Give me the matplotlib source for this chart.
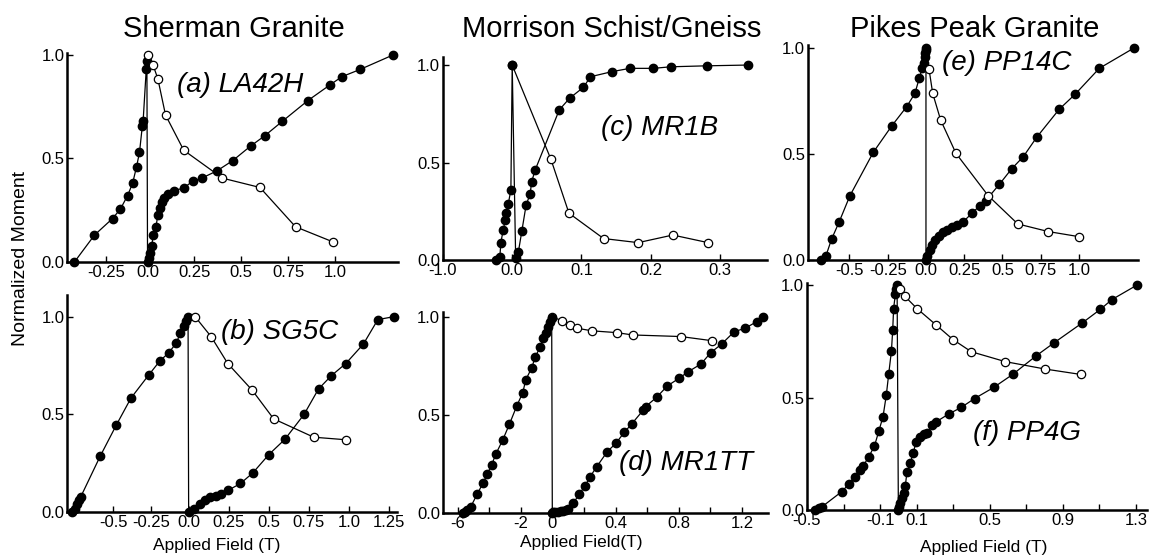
import numpy as np
import matplotlib
matplotlib.use('Agg')
import matplotlib.pyplot as plt

plt.rcParams['font.family'] = ['Liberation Sans', 'DejaVu Sans']

# ---- data (field in T, moment normalised) ----
# bf = backfield (filled, negative side), irm = IRM acquisition (filled), af = AF demag (open)

# (a) LA42H
a_bf_x = [-0.445, -0.323, -0.213, -0.165, -0.122, -0.091, -0.067, -0.049, -0.032, -0.027, -0.008, -0.004]
a_bf_y = [0.0, 0.13, 0.21, 0.256, 0.32, 0.38, 0.46, 0.53, 0.655, 0.68, 0.93, 0.97]
a_irm_x = [0.0, 0.01, 0.015, 0.022, 0.03, 0.045, 0.055, 0.066, 0.078, 0.09, 0.11, 0.14, 0.193, 0.24,
           0.289, 0.37, 0.455, 0.55, 0.626, 0.72, 0.856, 0.973, 1.037, 1.134, 1.31]
a_irm_y = [0.0, 0.02, 0.045, 0.075, 0.13, 0.17, 0.228, 0.26, 0.29, 0.31, 0.33, 0.345, 0.357, 0.39,
           0.405, 0.44, 0.49, 0.56, 0.61, 0.68, 0.78, 0.855, 0.895, 0.93, 1.0]
a_af_x = [0.0, 0.03, 0.055, 0.096, 0.193, 0.40, 0.60, 0.79, 0.99]
a_af_y = [1.0, 0.95, 0.885, 0.71, 0.54, 0.405, 0.36, 0.17, 0.097]

# (b) SG5C
b_bf_x = [-0.777, -0.755, -0.74, -0.727, -0.717, -0.589, -0.482, -0.384, -0.267, -0.193, -0.133,
          -0.082, -0.055, -0.033, -0.017, -0.004]
b_bf_y = [0.0, 0.017, 0.041, 0.061, 0.079, 0.285, 0.444, 0.583, 0.70, 0.772, 0.815, 0.865, 0.917,
          0.95, 0.98, 1.0]
b_irm_x = [0.0, 0.031, 0.073, 0.104, 0.136, 0.173, 0.2, 0.246, 0.323, 0.4, 0.5, 0.6, 0.72, 0.81,
           0.89, 0.98, 1.09, 1.18, 1.28]
b_irm_y = [0.0, 0.017, 0.041, 0.06, 0.075, 0.084, 0.09, 0.111, 0.146, 0.2, 0.294, 0.372, 0.5, 0.63,
           0.698, 0.76, 0.86, 0.985, 1.0]
b_af_x = [0.04, 0.14, 0.244, 0.396, 0.53, 0.78, 0.98]
b_af_y = [1.0, 0.898, 0.76, 0.624, 0.477, 0.383, 0.37]

# (c) MR1B
c_bf_x = [-0.227, -0.178, -0.164, -0.13, -0.10, -0.087, -0.058, -0.019, 0.0]
c_bf_y = [0.0, 0.017, 0.089, 0.154, 0.205, 0.24, 0.285, 0.36, 1.0]
c_irm_x = [0.005, 0.009, 0.014, 0.02, 0.026, 0.028, 0.033, 0.068, 0.083, 0.103, 0.113, 0.144, 0.17,
           0.204, 0.229, 0.281, 0.341]
c_irm_y = [0.01, 0.043, 0.15, 0.28, 0.34, 0.40, 0.46, 0.77, 0.83, 0.886, 0.94, 0.966, 0.983, 0.983,
           0.991, 0.996, 1.0]
c_af_x = [0.0, 0.056, 0.082, 0.132, 0.182, 0.232, 0.283]
c_af_y = [1.0, 0.516, 0.24, 0.11, 0.089, 0.128, 0.089]

# (d) MR1TT
d_bf_x = [-5.63, -5.5, -5.38, -5.16, -4.75, -4.37, -4.11, -3.84, -3.58, -3.14, -2.72, -2.25, -1.87,
          -1.68, -1.3, -1.09, -0.78, -0.57, -0.4, -0.25, -0.15, -0.04]
d_bf_y = [0.0, 0.005, 0.015, 0.032, 0.097, 0.155, 0.2, 0.245, 0.3, 0.372, 0.452, 0.546, 0.614, 0.679,
          0.741, 0.794, 0.845, 0.891, 0.917, 0.95, 0.976, 0.995]
d_irm_x = [0.0, 0.006, 0.02, 0.038, 0.055, 0.07, 0.085, 0.1, 0.133, 0.171, 0.207, 0.239, 0.281, 0.348,
           0.403, 0.456, 0.502, 0.576, 0.591, 0.66, 0.728, 0.802, 0.861, 0.941, 1.003, 1.072, 1.152,
           1.22, 1.294, 1.332]
d_irm_y = [0.0, 0.005, 0.005, 0.005, 0.008, 0.01, 0.015, 0.02, 0.05, 0.097, 0.138, 0.185, 0.236, 0.313,
           0.356, 0.412, 0.454, 0.525, 0.543, 0.59, 0.648, 0.687, 0.721, 0.76, 0.818, 0.862, 0.925,
           0.942, 0.976, 1.0]
d_af_x = [0.0, 0.06, 0.112, 0.158, 0.253, 0.407, 0.509, 0.813, 1.009]
d_af_y = [1.0, 0.981, 0.959, 0.942, 0.929, 0.92, 0.908, 0.9, 0.879]

# (e) PP14C
e_bf_x = [-0.686, -0.654, -0.617, -0.567, -0.497, -0.344, -0.224, -0.126, -0.072, -0.044, -0.024,
          -0.012, -0.008, -0.004, -0.002, 0.0]
e_bf_y = [0.0, 0.019, 0.098, 0.18, 0.303, 0.508, 0.632, 0.723, 0.786, 0.857, 0.904, 0.93, 0.955,
          0.975, 0.99, 1.0]
e_irm_x = [0.0, 0.01, 0.025, 0.04, 0.06, 0.085, 0.11, 0.14, 0.17, 0.2, 0.24, 0.3, 0.35, 0.39, 0.48,
           0.56, 0.636, 0.724, 0.871, 0.974, 1.133, 1.36]
e_irm_y = [0.0, 0.02, 0.045, 0.07, 0.095, 0.115, 0.13, 0.14, 0.155, 0.165, 0.178, 0.22, 0.255, 0.28,
           0.357, 0.43, 0.487, 0.579, 0.711, 0.781, 0.904, 1.0]
e_af_x = [0.02, 0.044, 0.096, 0.196, 0.407, 0.6, 0.8, 1.0]
e_af_y = [0.9, 0.786, 0.66, 0.503, 0.303, 0.17, 0.134, 0.11]

# (f) PP4G
f_bf_x = [-0.454, -0.435, -0.417, -0.311, -0.271, -0.239, -0.208, -0.193, -0.162, -0.131, -0.107,
          -0.084, -0.066, -0.053, -0.038, -0.031, -0.026, -0.016, -0.011, -0.007]
f_bf_y = [0.0, 0.008, 0.015, 0.081, 0.115, 0.148, 0.178, 0.195, 0.237, 0.284, 0.351, 0.415, 0.511,
          0.604, 0.707, 0.8, 0.896, 0.963, 0.985, 1.0]
f_irm_x = [0.0, 0.003, 0.01, 0.02, 0.03, 0.038, 0.047, 0.066, 0.08, 0.098, 0.117, 0.138, 0.157, 0.184,
           0.208, 0.275, 0.343, 0.417, 0.521, 0.625, 0.754, 0.852, 1.007, 1.104, 1.168, 1.304]
f_irm_y = [0.0, 0.015, 0.03, 0.052, 0.074, 0.107, 0.17, 0.21, 0.252, 0.304, 0.326, 0.338, 0.341, 0.378,
           0.393, 0.427, 0.456, 0.496, 0.545, 0.603, 0.686, 0.744, 0.833, 0.892, 0.936, 1.0]
f_af_x = [0.01, 0.035, 0.102, 0.208, 0.299, 0.399, 0.585, 0.803, 0.998]
f_af_y = [0.985, 0.951, 0.896, 0.822, 0.758, 0.704, 0.66, 0.627, 0.603]

panel_names = ['(a) LA42H', '(b) SG5C', '(c) MR1B', '(d) MR1TT', '(e) PP14C', '(f) PP4G']
group_titles = ['Sherman Granite', 'Morrison Schist/Gneiss', 'Pikes Peak Granite']

a_ticks = [-0.25, 0.0, 0.25, 0.5, 0.75, 1.0]
a_labels = ['-0.25', '0.0', '0.25', '0.5', '0.75', '1.0']
b_ticks = [-0.5, -0.25, 0.0, 0.25, 0.5, 0.75, 1.0, 1.25]
b_labels = ['-0.5', '-0.25', '0.0', '0.25', '0.5', '0.75', '1.0', '1.25']
c_ticks = [-1.0, 0.0, 0.1, 0.2, 0.3]
c_labels = ['-1.0', '0.0', '0.1', '0.2', '0.3']
d_ticks = [-6, -4, -2, 0, 0.2, 0.4, 0.6, 0.8, 1.0, 1.2]
d_labels = ['-6', '', '-2', '0', '', '0.4', '', '0.8', '', '1.2']
e_ticks = [-0.5, -0.25, 0.0, 0.25, 0.5, 0.75, 1.0]
e_labels = ['-0.5', '-0.25', '0.0', '0.25', '0.5', '0.75', '1.0']
f_ticks = [-0.5, -0.3, -0.1, 0.1, 0.3, 0.5, 0.7, 0.9, 1.1, 1.3]
f_labels = ['-0.5', '', '-0.1', '0.1', '', '0.5', '', '0.9', '', '1.3']


def neg_scale(k):
    # negative fields are drawn compressed by factor k
    def fwd(x):
        x = np.asarray(x, dtype=float)
        return np.where(x < 0, x * k, x)

    def inv(t):
        t = np.asarray(t, dtype=float)
        return np.where(t < 0, t / k, t)
    return fwd, inv


panels = [
    # rect (fig frac), k, xlim, ylim, ticks, labels, name pos, open on top
    ([0.0583, 0.5288, 0.2878, 0.376], 0.877, (-0.49, 1.337), (0, 1.01), a_ticks, a_labels,
     (0.155, 0.855), True, a_bf_x, a_bf_y, a_irm_x, a_irm_y, a_af_x, a_af_y),
    ([0.0583, 0.0791, 0.287, 0.390], 0.9375, (-0.809, 1.30), (0, 1.11), b_ticks, b_labels,
     (0.2, 0.92), True, b_bf_x, b_bf_y, b_irm_x, b_irm_y, b_af_x, b_af_y),
    ([0.3852, 0.5324, 0.2817, 0.365], 0.1, (-1.0, 0.368), (0, 1.041), c_ticks, c_labels,
     (0.129, 0.677), False, c_bf_x, c_bf_y, c_irm_x, c_irm_y, c_af_x, c_af_y),
    ([0.3852, 0.0773, 0.2826, 0.3615], 0.1, (-6.92, 1.365), (0, 1.025), d_ticks, d_labels,
     (0.42, 0.255), False, d_bf_x, d_bf_y, d_irm_x, d_irm_y, d_af_x, d_af_y),
    ([0.7026, 0.5324, 0.287, 0.3867], 1.0, (-0.771, 1.386), (0, 1.014), e_ticks, e_labels,
     (0.105, 0.93), True, e_bf_x, e_bf_y, e_irm_x, e_irm_y, e_af_x, e_af_y),
    ([0.7017, 0.0827, 0.2957, 0.408], 1.0, (-0.5, 1.36), (0, 1.009), f_ticks, f_labels,
     (0.41, 0.342), True, f_bf_x, f_bf_y, f_irm_x, f_irm_y, f_af_x, f_af_y),
]

fig = plt.figure(figsize=(11.5, 5.56), dpi=100)

for i, p in enumerate(panels):
    rect, k, xl, yl, ticks, labels, npos, open_top, bfx, bfy, irx, iry, afx, afy = p
    ax = fig.add_axes(rect)
    ax.set_xscale('function', functions=neg_scale(k))
    ax.set_xlim(xl)
    ax.set_ylim(yl)

    z_open = 4 if open_top else 2
    ax.plot(bfx + irx, bfy + iry, color='k', lw=0.9, marker='o', ms=6, mfc='k', mec='k',
            clip_on=False, zorder=3)
    ax.plot(afx, afy, color='k', lw=0.9, marker='o', ms=6, mfc='white', mec='k', mew=0.9,
            clip_on=False, zorder=z_open)

    ax.text(npos[0], npos[1], panel_names[i], fontsize=20, style='italic', ha='left', va='center')

    for s in ['top', 'right']:
        ax.spines[s].set_visible(False)
    for s in ['left', 'bottom']:
        ax.spines[s].set_linewidth(1.8)
    ax.set_xticks(ticks)
    ax.set_xticklabels(labels)
    ax.xaxis.set_minor_locator(matplotlib.ticker.NullLocator())
    ax.set_yticks([0.0, 0.5, 1.0])
    ax.set_yticklabels(['0.0', '0.5', '1.0'])
    ax.tick_params(direction='in', length=4.5, width=1, labelsize=12, pad=2)

# column titles
fig.text(234 / 1150, 0.9335, group_titles[0], fontsize=21, ha='center', va='baseline')
fig.text(612 / 1150, 0.9335, group_titles[1], fontsize=21, ha='center', va='baseline')
fig.text(975 / 1150, 0.9335, group_titles[2], fontsize=21, ha='center', va='baseline')

fig.text(0.0174, 0.536, 'Normalized Moment', rotation=90, fontsize=14, ha='center', va='center')
fig.text(217 / 1150, 0.018, 'Applied Field (T)', fontsize=12.5, ha='center', va='center')
fig.text(581 / 1150, 0.0234, 'Applied Field(T)', fontsize=12.5, ha='center', va='center')
fig.text(984 / 1150, 0.016, 'Applied Field (T)', fontsize=12.5, ha='center', va='center')

fig.savefig('out.png', dpi=100)
